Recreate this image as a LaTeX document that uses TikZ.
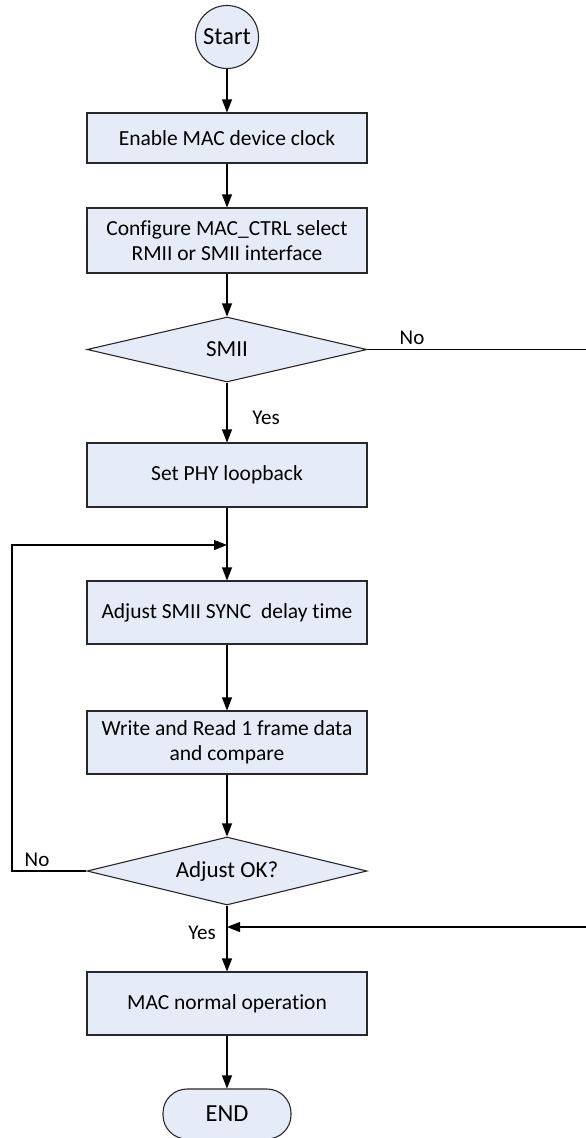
\documentclass[tikz,border=0pt]{standalone}
\usepackage{fontspec}
\setmainfont{Carlito}[Ligatures={NoCommon}]
\usetikzlibrary{shapes.geometric,arrows.meta}
\definecolor{boxfill}{RGB}{230,236,247}
\definecolor{boxline}{RGB}{40,40,40}
\tikzset{
  base/.style={draw=boxline, fill=boxfill, line width=1.1pt, inner sep=0pt, align=center},
  procbox/.style={base, rectangle, minimum width=280pt, font=\fontsize{21.5}{24.5}\selectfont},
  decision/.style={base, diamond, shape aspect=4, minimum width=280pt, font=\fontsize{23}{27}\selectfont},
  lbl/.style={font=\fontsize{21}{25}\selectfont, inner sep=0pt},
  conn/.style={line width=1.1pt, draw=black},
  arr/.style={conn, -{Triangle[length=13pt,width=10pt]}}
}
\begin{document}
\begin{tikzpicture}[x=1pt,y=-1pt]
\useasboundingbox (0,0) rectangle (586,1138);
\node[base, circle, minimum size=63pt, font=\fontsize{24.5}{28}\selectfont] (start) at (227,37) {Start};
\node[procbox, minimum height=50pt] (b1) at (227,138) {Enable MAC device clock};
\node[procbox, minimum height=65pt] (b2) at (227,240.5) {Configure MAC\_CTRL select\\RMII or SMII interface};
\node[decision, minimum height=65pt] (d1) at (227,349.5) {SMII};
\node[procbox, minimum height=64pt] (b3) at (227,475) {Set PHY loopback};
\coordinate (j1) at (227,545);
\node[procbox, minimum height=63pt] (b4) at (227,612.5) {Adjust SMII SYNC\ \ delay time};
\node[procbox, minimum height=63pt] (b5) at (227,742.5) {Write and Read 1 frame data\\and compare};
\node[decision, minimum height=68pt] (d2) at (227,871) {Adjust OK?};
\coordinate (j2) at (227,927);
\node[procbox, minimum height=63pt] (b6) at (227,1003.5) {MAC normal operation};
\node[base, rectangle, rounded corners=24pt, minimum width=128pt, minimum height=50pt, font=\fontsize{24.5}{28}\selectfont] (end) at (227,1114) {END};
\coordinate (r1) at (587,349.5);
\coordinate (r2) at (587,927);
\coordinate (l1) at (12,871);
\coordinate (l2) at (12,545);

\draw[arr] (start) -- (b1);
\draw[arr] (b1) -- (b2);
\draw[arr] (b2) -- (d1);
\draw[arr] (d1) -- (b3);
\draw[arr] (b3) -- (b4);
\draw[arr] (b4) -- (b5);
\draw[arr] (b5) -- (d2);
\draw[arr] (d2) -- (b6);
\draw[arr] (b6) -- (end);
\draw[conn] (d1.east) -- (r1);
\draw[arr] (r2) -- (j2);
\draw[arr] (d2.west) -- (l1) -- (l2) -- (j1);

\node[lbl] (no1) at (412,338) {No};
\node[lbl] (yes1) at (266,418) {Yes};
\node[lbl] (no2) at (37,860) {No};
\node[lbl] (yes2) at (202,933) {Yes};
\end{tikzpicture}
\end{document}
